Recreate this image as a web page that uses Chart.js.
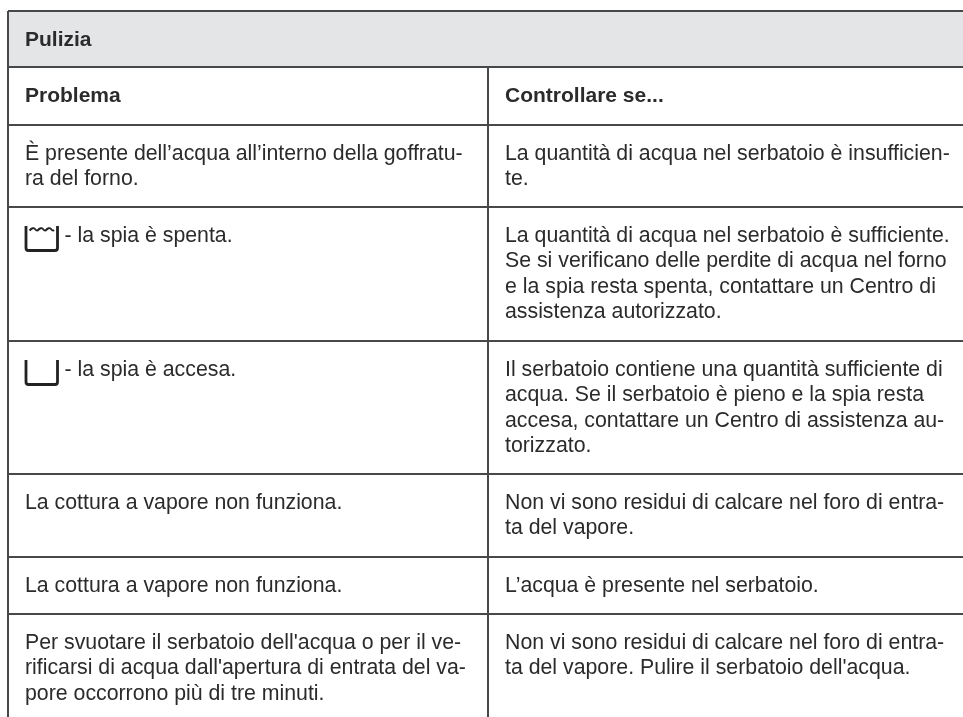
<!DOCTYPE html>
<html>
<head>
<meta charset="utf-8">
<title>Pulizia</title>
<style>
  html, body { margin: 0; padding: 0; background: #fff; }
  canvas { display: block; }
</style>
<script src="https://cdn.jsdelivr.net/npm/chart.js@4"></script>
</head>
<body>
<canvas id="tableChart" width="963" height="717"></canvas>
<script>
const tableTitle = 'Pulizia';
const columnTitles = ['Problema', 'Controllare se...'];

// table rules
const rowEdges = [11, 67, 125, 207, 341, 474, 557, 614];
const columnEdges = [8, 488, 963];
const pageBottom = 717;

const problemLines = [
  ['È presente dell’acqua all’interno della goffratu-', 'ra del forno.'],
  ['- la spia è spenta.'],
  ['- la spia è accesa.'],
  ['La cottura a vapore non funziona.'],
  ['La cottura a vapore non funziona.'],
  ['Per svuotare il serbatoio dell\'acqua o per il ve-',
    'rificarsi di acqua dall\'apertura di entrata del va-',
    'pore occorrono più di tre minuti.'],
];
const checkLines = [
  ['La quantità di acqua nel serbatoio è insufficien-', 'te.'],
  ['La quantità di acqua nel serbatoio è sufficiente.',
    'Se si verificano delle perdite di acqua nel forno',
    'e la spia resta spenta, contattare un Centro di',
    'assistenza autorizzato.'],
  ['Il serbatoio contiene una quantità sufficiente di',
    'acqua. Se il serbatoio è pieno e la spia resta',
    'accesa, contattare un Centro di assistenza au-',
    'torizzato.'],
  ['Non vi sono residui di calcare nel foro di entra-', 'ta del vapore.'],
  ['L’acqua è presente nel serbatoio.'],
  ['Non vi sono residui di calcare nel foro di entra-',
    'ta del vapore. Pulire il serbatoio dell\'acqua.'],
];
// which body rows start with the water tank symbol
const tankRows = {1: 'full', 2: 'empty'};

const COLOR_RULE = '#47484a';
const COLOR_HEADER = '#e4e5e7';
const COLOR_TEXT = '#2b2b2b';
const RULE_WIDTH = 2;
const FONT_FAMILY = '"Liberation Sans", Arial, sans-serif';
const FONT_SIZE = 21.3;
const FONT_SIZE_BOLD = 21;
const LINE_HEIGHT = 25.3;
const CELL_PADDING = 17;
const BASELINE_OFFSET = 35;
const TANK_TEXT_INDENT = 39.5;

/**
 * Builds one straight rule as a scatter dataset.
 * @param {Array} points The two ends of the rule.
 * @return {Object} The dataset.
 */
function ruleDataset(points) {
  return {
    data: points,
    showLine: true,
    borderColor: COLOR_RULE,
    borderWidth: RULE_WIDTH,
    pointRadius: 0,
    clip: false,
    order: 0,
  };
}

/**
 * Collects the rules of the table and the grey title band.
 * @return {Array} The datasets of the chart.
 */
function getDatasets() {
  const left = columnEdges[0];
  const divider = columnEdges[1];
  const right = columnEdges[2];
  const datasets = [{
    data: [{x: left, y: rowEdges[0]}, {x: right, y: rowEdges[0]}],
    showLine: true,
    borderWidth: 0,
    pointRadius: 0,
    backgroundColor: COLOR_HEADER,
    fill: {value: rowEdges[1]},
    order: 1, // under the rules
  }];
  rowEdges.forEach((edge) => {
    datasets.push(ruleDataset([{x: left, y: edge}, {x: right, y: edge}]));
  });
  datasets.push(ruleDataset([{x: left, y: rowEdges[0]}, {x: left, y: pageBottom}]));
  datasets.push(ruleDataset([{x: divider, y: rowEdges[1]}, {x: divider, y: pageBottom}]));
  return datasets;
}

/**
 * Draws the water tank symbol.
 * @param {CanvasRenderingContext2D} c The canvas context.
 * @param {number} x Left side of the symbol.
 * @param {number} top Top of the symbol.
 * @param {string} kind Either full or empty.
 */
function drawTank(c, x, top, kind) {
  c.save();
  c.strokeStyle = '#222';
  c.lineWidth = 2.8;
  c.lineJoin = 'round';
  c.beginPath();
  c.moveTo(x, top);
  c.lineTo(x, top + 22);
  c.quadraticCurveTo(x, top + 24.5, x + 2.5, top + 24.5);
  c.lineTo(x + 29, top + 24.5);
  c.quadraticCurveTo(x + 31.5, top + 24.5, x + 31.5, top + 22);
  c.lineTo(x + 31.5, top);
  c.stroke();
  if (kind === 'full') {
    // water level, three humps between the walls
    c.lineWidth = 1.9;
    c.beginPath();
    c.moveTo(x + 3.5, top + 4.5);
    for (let i = 0; i < 3; i++) {
      c.quadraticCurveTo(x + 7 + i * 8, top + 0.7, x + 9 + i * 8, top + 3);
      c.quadraticCurveTo(x + 10.5 + i * 8, top + 5, x + 11.5 + i * 8, top + 4.5);
    }
    c.lineTo(x + 28, top + 4);
    c.stroke();
  }
  c.restore();
}

// the cell texts go through the scales, like the rules do
const cellTextPlugin = {
  id: 'cellText',
  afterDatasetsDraw(chart) {
    const c = chart.ctx;
    const xScale = chart.scales.x;
    const yScale = chart.scales.y;
    const columnX = (i) => xScale.getPixelForValue(columnEdges[i]) + CELL_PADDING;
    const rowY = (i) => yScale.getPixelForValue(rowEdges[i]);

    c.save();
    c.fillStyle = COLOR_TEXT;
    c.textBaseline = 'alphabetic';
    c.font = 'bold ' + FONT_SIZE_BOLD + 'px ' + FONT_FAMILY;
    c.fillText(tableTitle, columnX(0), rowY(0) + BASELINE_OFFSET);
    columnTitles.forEach((title, i) => {
      c.fillText(title, columnX(i), rowY(1) + BASELINE_OFFSET);
    });

    c.font = FONT_SIZE + 'px ' + FONT_FAMILY;
    [problemLines, checkLines].forEach((column, col) => {
      column.forEach((lines, row) => {
        const indent = col === 0 && tankRows[row] ? TANK_TEXT_INDENT : 0;
        lines.forEach((line, i) => {
          const y = rowY(row + 2) + BASELINE_OFFSET + i * LINE_HEIGHT;
          c.fillText(line, columnX(col) + indent, y);
        });
      });
    });
    Object.keys(tankRows).forEach((row) => {
      drawTank(c, columnX(0) + 1, rowY(Number(row) + 2) + 19, tankRows[row]);
    });
    c.restore();
  },
};

new Chart(document.getElementById('tableChart'), {
  type: 'scatter',
  data: {datasets: getDatasets()},
  plugins: [cellTextPlugin],
  options: {
    responsive: false,
    animation: false,
    layout: {padding: 0},
    plugins: {legend: {display: false}, tooltip: {enabled: false}},
    scales: {
      x: {type: 'linear', display: false, min: 0, max: 963},
      y: {type: 'linear', display: false, min: 0, max: 717, reverse: true},
    },
  },
});
</script>
</body>
</html>
